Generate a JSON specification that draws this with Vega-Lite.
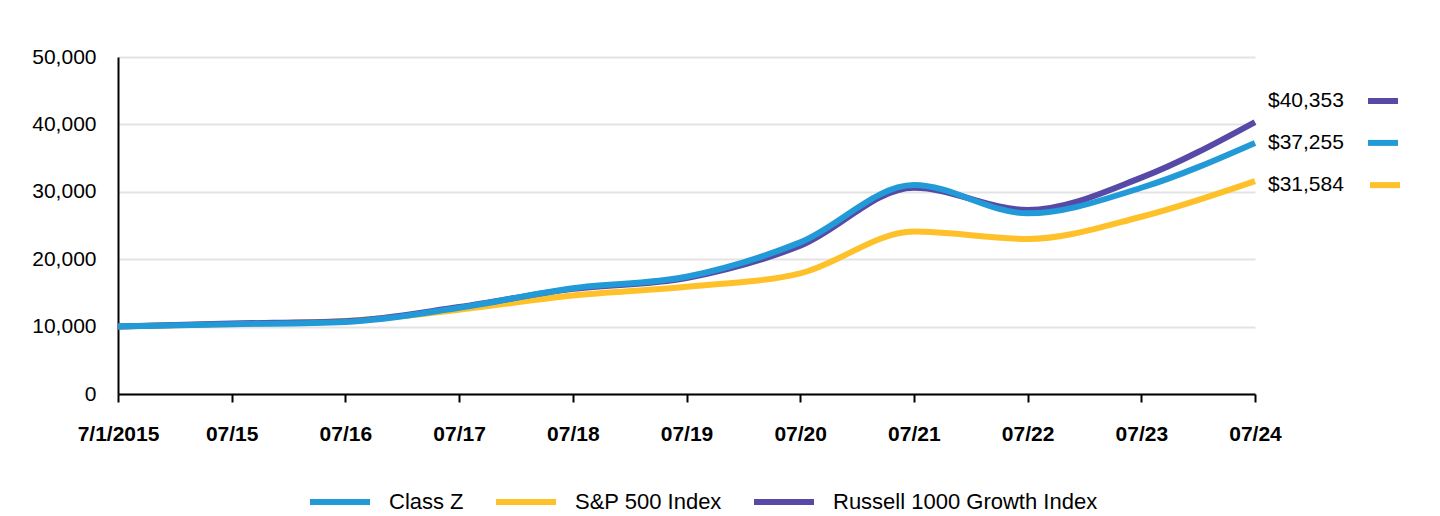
{
  "$schema": "https://vega.github.io/schema/vega-lite/v6.json",
  "width": 1137,
  "height": 337,
  "autosize": {"type": "none"},
  "padding": {"left": 118, "top": 57, "right": 185, "bottom": 122},
  "background": "white",
  "config": {
    "view": {"stroke": null},
    "font": "Liberation Sans"
  },
  "data": {
    "values": [
      {"period": "7/1/2015", "series": "Class Z", "value": 10000},
      {"period": "07/15", "series": "Class Z", "value": 10350},
      {"period": "07/16", "series": "Class Z", "value": 10700},
      {"period": "07/17", "series": "Class Z", "value": 12800},
      {"period": "07/18", "series": "Class Z", "value": 15700},
      {"period": "07/19", "series": "Class Z", "value": 17400},
      {"period": "07/20", "series": "Class Z", "value": 22500},
      {"period": "07/21", "series": "Class Z", "value": 31000},
      {"period": "07/22", "series": "Class Z", "value": 26800},
      {"period": "07/23", "series": "Class Z", "value": 30600},
      {"period": "07/24", "series": "Class Z", "value": 37255},
      {"period": "7/1/2015", "series": "S&P 500 Index", "value": 10000},
      {"period": "07/15", "series": "S&P 500 Index", "value": 10400},
      {"period": "07/16", "series": "S&P 500 Index", "value": 10850},
      {"period": "07/17", "series": "S&P 500 Index", "value": 12500},
      {"period": "07/18", "series": "S&P 500 Index", "value": 14600},
      {"period": "07/19", "series": "S&P 500 Index", "value": 15900},
      {"period": "07/20", "series": "S&P 500 Index", "value": 17900},
      {"period": "07/21", "series": "S&P 500 Index", "value": 24100},
      {"period": "07/22", "series": "S&P 500 Index", "value": 23000},
      {"period": "07/23", "series": "S&P 500 Index", "value": 26300},
      {"period": "07/24", "series": "S&P 500 Index", "value": 31584},
      {"period": "7/1/2015", "series": "Russell 1000 Growth Index", "value": 10000},
      {"period": "07/15", "series": "Russell 1000 Growth Index", "value": 10450},
      {"period": "07/16", "series": "Russell 1000 Growth Index", "value": 10800},
      {"period": "07/17", "series": "Russell 1000 Growth Index", "value": 12900},
      {"period": "07/18", "series": "Russell 1000 Growth Index", "value": 15600},
      {"period": "07/19", "series": "Russell 1000 Growth Index", "value": 17200},
      {"period": "07/20", "series": "Russell 1000 Growth Index", "value": 22000},
      {"period": "07/21", "series": "Russell 1000 Growth Index", "value": 30600},
      {"period": "07/22", "series": "Russell 1000 Growth Index", "value": 27300},
      {"period": "07/23", "series": "Russell 1000 Growth Index", "value": 32100},
      {"period": "07/24", "series": "Russell 1000 Growth Index", "value": 40353}
    ]
  },
  "encoding": {
    "x": {
      "field": "period",
      "type": "ordinal",
      "sort": null,
      "scale": {"type": "point", "padding": 0},
      "axis": {
        "title": null,
        "labelAngle": 0,
        "labelFont": "Liberation Sans",
        "labelFontSize": 21,
        "labelFontWeight": "bold",
        "labelColor": "black",
        "labelPadding": 21,
        "domainColor": "black",
        "domainWidth": 2,
        "tickColor": "black",
        "tickWidth": 2,
        "tickSize": 8,
        "grid": false
      }
    },
    "y": {
      "field": "value",
      "type": "quantitative",
      "scale": {"domain": [0, 50000], "nice": false},
      "axis": {
        "title": null,
        "values": [0, 10000, 20000, 30000, 40000, 50000],
        "format": ",.0f",
        "labelFont": "Liberation Sans",
        "labelFontSize": 21,
        "labelColor": "black",
        "labelPadding": 22,
        "ticks": false,
        "domainColor": "black",
        "domainWidth": 2,
        "gridColor": "#e3e3e3",
        "gridWidth": 2
      }
    },
    "color": {
      "field": "series",
      "type": "nominal",
      "scale": {
        "domain": ["Class Z", "S&P 500 Index", "Russell 1000 Growth Index"],
        "range": ["#219AD7", "#FFC12A", "#574AA7"]
      },
      "legend": {
        "title": null,
        "orient": "none",
        "direction": "horizontal",
        "legendX": 189,
        "legendY": 412,
        "symbolType": "stroke",
        "symbolSize": 3600,
        "symbolStrokeWidth": 6,
        "labelFont": "Liberation Sans",
        "labelFontSize": 22,
        "labelColor": "black",
        "labelOffset": 16,
        "labelLimit": 0,
        "columnPadding": 20,
        "padding": 0
      }
    }
  },
  "layer": [
    {
      "transform": [{"filter": "datum.series === 'S&P 500 Index'"}],
      "mark": {"type": "line", "interpolate": "monotone", "strokeWidth": 6}
    },
    {
      "transform": [{"filter": "datum.series === 'Russell 1000 Growth Index'"}],
      "mark": {"type": "line", "interpolate": "monotone", "strokeWidth": 6}
    },
    {
      "transform": [{"filter": "datum.series === 'Class Z'"}],
      "mark": {"type": "line", "interpolate": "monotone", "strokeWidth": 6}
    },
    {
      "transform": [{"filter": "datum.period === '07/24' && datum.series === 'Russell 1000 Growth Index'"}],
      "mark": {"type": "text", "align": "left", "baseline": "middle", "dx": 13, "dy": -21, "fontSize": 21, "font": "Liberation Sans"},
      "encoding": {"text": {"field": "value", "type": "quantitative", "format": "$,.0f"}, "color": {"value": "black"}}
    },
    {
      "transform": [{"filter": "datum.period === '07/24' && datum.series === 'Class Z'"}],
      "mark": {"type": "text", "align": "left", "baseline": "middle", "dx": 13, "dy": 0, "fontSize": 21, "font": "Liberation Sans"},
      "encoding": {"text": {"field": "value", "type": "quantitative", "format": "$,.0f"}, "color": {"value": "black"}}
    },
    {
      "transform": [{"filter": "datum.period === '07/24' && datum.series === 'S&P 500 Index'"}],
      "mark": {"type": "text", "align": "left", "baseline": "middle", "dx": 13, "dy": 4, "fontSize": 21, "font": "Liberation Sans"},
      "encoding": {"text": {"field": "value", "type": "quantitative", "format": "$,.0f"}, "color": {"value": "black"}}
    },
    {
      "transform": [{"filter": "datum.period === '07/24' && datum.series === 'Russell 1000 Growth Index'"}],
      "mark": {"type": "point", "shape": "M-1,0L1,0", "size": 900, "strokeWidth": 6, "filled": false, "opacity": 1, "xOffset": 128, "yOffset": -21, "strokeCap": "butt"}
    },
    {
      "transform": [{"filter": "datum.period === '07/24' && datum.series === 'Class Z'"}],
      "mark": {"type": "point", "shape": "M-1,0L1,0", "size": 900, "strokeWidth": 6, "filled": false, "opacity": 1, "xOffset": 128, "yOffset": 0, "strokeCap": "butt"}
    },
    {
      "transform": [{"filter": "datum.period === '07/24' && datum.series === 'S&P 500 Index'"}],
      "mark": {"type": "point", "shape": "M-1,0L1,0", "size": 900, "strokeWidth": 6, "filled": false, "opacity": 1, "xOffset": 130, "yOffset": 4, "strokeCap": "butt"}
    }
  ]
}
